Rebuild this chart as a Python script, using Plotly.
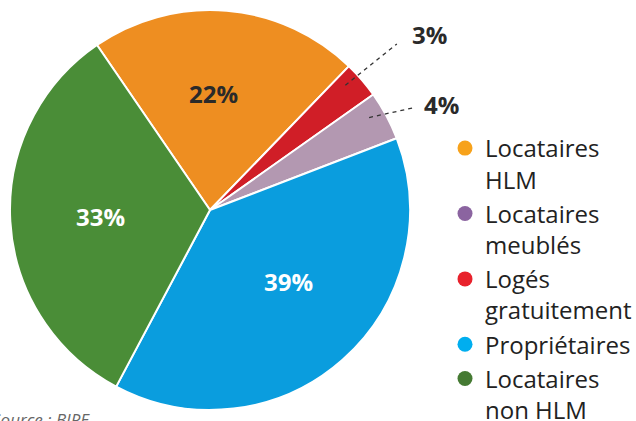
import math
import plotly.graph_objects as go

# ---- data ----
categories = ["Locataires HLM", "Logés gratuitement", "Locataires meublés", "Propriétaires", "Locataires non HLM"]
values = [22, 3, 4, 39, 33]
slice_colors = ["#EE8E21", "#D01E27", "#B398B1", "#0A9DDE", "#4A8D37"]
label_colors = ["#2a2a2a", "#2a2a2a", "#2a2a2a", "#ffffff", "#ffffff"]
inside = [True, False, False, True, True]

legend_names = ["Locataires<br>HLM", "Locataires<br>meublés", "Logés<br>gratuitement", "Propriétaires", "Locataires<br>non HLM"]
legend_colors = ["#F7A21B", "#8B64A0", "#E8222C", "#00AEEF", "#457A33"]

# label placement styles (angle shift in degrees, radius fraction)
label_angle_shift = [-3, 0, 0, -6, 0]
label_rfrac = [0.585, 0, 0, 0.53, 0.55]

W, H = 636, 421
CX, CY, R = 210, 210, 200
ROT = -34.4

fig = go.Figure()
fig.add_trace(go.Pie(
    labels=categories, values=values, sort=False, direction="clockwise",
    rotation=ROT, textinfo="none", hoverinfo="label+percent",
    marker=dict(colors=slice_colors, line=dict(color="white", width=2)),
    domain=dict(x=[(CX - R) / W, (CX + R) / W], y=[1 - (CY + R) / H, 1 - (CY - R) / H]),
    showlegend=False,
))

def polar(angle_deg, rfrac):
    a = math.radians(angle_deg)
    px = CX + R * rfrac * math.sin(a)
    py = CY - R * rfrac * math.cos(a)
    return px / W, 1 - py / H

total = sum(values)
start = ROT
annotations = []
shapes = []
for i, v in enumerate(values):
    span = v / total * 360
    mid = start + span / 2
    if inside[i]:
        x, y = polar(mid + label_angle_shift[i], label_rfrac[i])
        annotations.append(dict(x=x, y=y, xref="paper", yref="paper", text=f"<b>{v}%</b>",
                                xanchor="center", yanchor="middle", showarrow=False,
                                font=dict(family="Open Sans", size=24, color=label_colors[i])))
    else:
        x0, y0 = polar(mid - 2, 0.92)
        x1, y1 = polar(mid - 1 if i == 1 else mid + 1.5, 1.25 if i == 1 else 1.14)
        shapes.append(dict(type="line", xref="paper", yref="paper", x0=x0, y0=y0, x1=x1, y1=y1,
                           line=dict(color="#333", width=1.3, dash="4px,4px")))
        annotations.append(dict(x=x1, y=y1, xref="paper", yref="paper", text=f"<b>{v}%</b>",
                                xanchor="left", yanchor="middle", xshift=13 if i == 1 else 8,
                                yshift=9 if i == 1 else 3, showarrow=False,
                                font=dict(family="Open Sans", size=24, color=label_colors[i])))
    start += span

annotations.append(dict(x=-10 / W, y=1 - 406 / H, xref="paper", yref="paper", xanchor="left", yanchor="top",
                        text="<i>Source : BIPE</i>", showarrow=False,
                        font=dict(family="Open Sans", size=17, color="#666")))

for name, col in zip(legend_names, legend_colors):
    fig.add_trace(go.Scatter(x=[None], y=[None], mode="markers", name=name,
                             marker=dict(size=15, color=col), hoverinfo="skip"))

fig.update_layout(
    width=W, height=H, margin=dict(l=0, r=0, t=0, b=0, autoexpand=False),
    paper_bgcolor="white", plot_bgcolor="white",
    xaxis=dict(visible=False), yaxis=dict(visible=False),
    legend=dict(x=445 / W, y=1 - 126 / H, xanchor="left", yanchor="top", valign="top",
                font=dict(family="Open Sans", size=24, color="#222"),
                bgcolor="rgba(0,0,0,0)", itemwidth=30),
    annotations=annotations, shapes=shapes,
)
fig.write_html("out.html", config={"displayModeBar": False},
               post_script="document.body.style.margin='0';")
